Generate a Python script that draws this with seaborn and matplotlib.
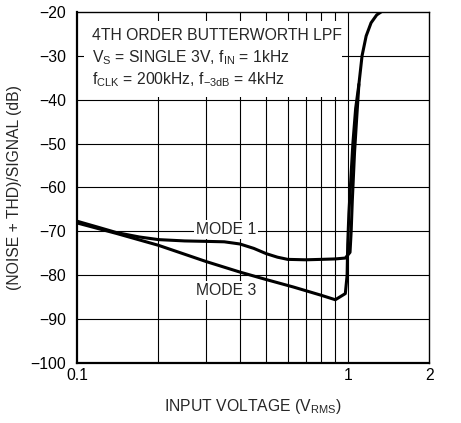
import numpy as np
import pandas as pd
import matplotlib
matplotlib.use("Agg")
import matplotlib.pyplot as plt
from matplotlib.patches import Rectangle
import seaborn as sns

# Mode 1 curve (input V_RMS, dB)
mode1_v = [0.1, 0.12, 0.14, 0.17, 0.2, 0.25, 0.3, 0.35, 0.4, 0.45, 0.5, 0.55,
           0.6, 0.7, 0.8, 0.9, 0.98, 1.02, 1.03, 1.04, 1.06, 1.08, 1.1, 1.13,
           1.17, 1.22, 1.28, 1.33]
mode1_db = [-67.7, -69.1, -70.3, -71.3, -71.9, -72.2, -72.3, -72.4, -72.9, -73.9,
            -75.1, -75.9, -76.4, -76.5, -76.4, -76.3, -76.1, -74.8, -70.0, -63.0,
            -52.0, -44.0, -36.5, -30.0, -25.5, -22.5, -20.7, -20.0]

# Mode 3 curve
mode3_v = [0.1, 0.14, 0.2, 0.3, 0.4, 0.5, 0.63, 0.8, 0.9, 0.98, 0.995, 1.0,
           1.01, 1.025, 1.045, 1.07, 1.1]
mode3_db = [-68.1, -70.5, -73.2, -76.9, -79.3, -81.0, -82.7, -84.6, -85.6, -84.2,
            -80.0, -73.0, -66.0, -59.0, -50.0, -42.0, -36.5]

y_ticks = [-20, -30, -40, -50, -60, -70, -80, -90, -100]
x_ticks = [0.1, 1, 2]
x_tick_labels = ["0.1", "1", "2"]
x_grid = [0.2, 0.3, 0.4, 0.5, 0.6, 0.7, 0.8, 0.9, 1.0]

sns.set_theme(style="white")
plt.rcParams["font.family"] = ["Liberation Sans", "DejaVu Sans"]
plt.rcParams["mathtext.fontset"] = "custom"
plt.rcParams["mathtext.rm"] = "Liberation Sans"
plt.rcParams["mathtext.it"] = "Liberation Sans"
plt.rcParams["mathtext.default"] = "regular"
plt.rcParams["axes.unicode_minus"] = True

df1 = pd.DataFrame({"v": mode1_v, "db": mode1_db})
df3 = pd.DataFrame({"v": mode3_v, "db": mode3_db})

fig = plt.figure(figsize=(4.61, 4.23), dpi=100)
ax = fig.add_axes([0.167, 0.142, 0.764, 0.830])

ax.set_xscale("log")
ax.set_xlim(0.1, 2)
ax.set_ylim(-100, -20)

# grid
for gx in x_grid:
    ax.axvline(gx, color="black", lw=0.8, zorder=1)
for gy in y_ticks[1:-1]:
    ax.axhline(gy, color="black", lw=0.8, zorder=1)

# white box behind the conditions text
ax.add_patch(Rectangle((0.02, 0.758), 0.733, 0.216, transform=ax.transAxes,
                       facecolor="white", edgecolor="none", zorder=2))

sns.lineplot(data=df1, x="v", y="db", ax=ax, color="black", lw=2.2,
             sort=False, estimator=None, zorder=4)
sns.lineplot(data=df3, x="v", y="db", ax=ax, color="black", lw=2.2,
             sort=False, estimator=None, zorder=4)

fs = 11.3
tx = 0.1135
ax.text(tx, -26.5, "4TH ORDER BUTTERWORTH LPF", fontsize=fs, va="baseline", zorder=3)
ax.text(tx, -31.5, r"V$_S$ = SINGLE 3V, f$_{IN}$ = 1kHz", fontsize=fs, va="baseline", zorder=3)
ax.text(tx, -36.5, "f$_{CLK}$ = 200kHz, f$_{\u22123dB}$ = 4kHz",
        fontsize=fs, va="baseline", zorder=3)

lab_box = dict(facecolor="white", edgecolor="none", pad=1.5)
ax.text(0.356, -69.6, "MODE 1", fontsize=fs, ha="center", va="center", bbox=lab_box, zorder=3)
ax.text(0.356, -83.4, "MODE 3", fontsize=fs, ha="center", va="center", bbox=lab_box, zorder=3)

ax.set_xticks(x_ticks)
ax.set_xticklabels(x_tick_labels)
ax.xaxis.set_minor_locator(matplotlib.ticker.NullLocator())
ax.set_yticks(y_ticks)
ax.set_yticklabels([f"\u2212{abs(t)}" for t in y_ticks])
ax.tick_params(axis="both", length=0, labelsize=fs, colors="black")
ax.tick_params(axis="y", pad=8)
ax.tick_params(axis="x", pad=4)

ax.set_xlabel(r"INPUT VOLTAGE (V$_{RMS}$)", fontsize=fs, labelpad=10)
ax.set_ylabel("(NOISE + THD)/SIGNAL (dB)", fontsize=fs, labelpad=6)

for s in ax.spines.values():
    s.set_color("black")
    s.set_linewidth(1.0)
ax.spines["left"].set_linewidth(1.6)
ax.spines["bottom"].set_linewidth(1.6)

fig.savefig("out.png", dpi=100)
